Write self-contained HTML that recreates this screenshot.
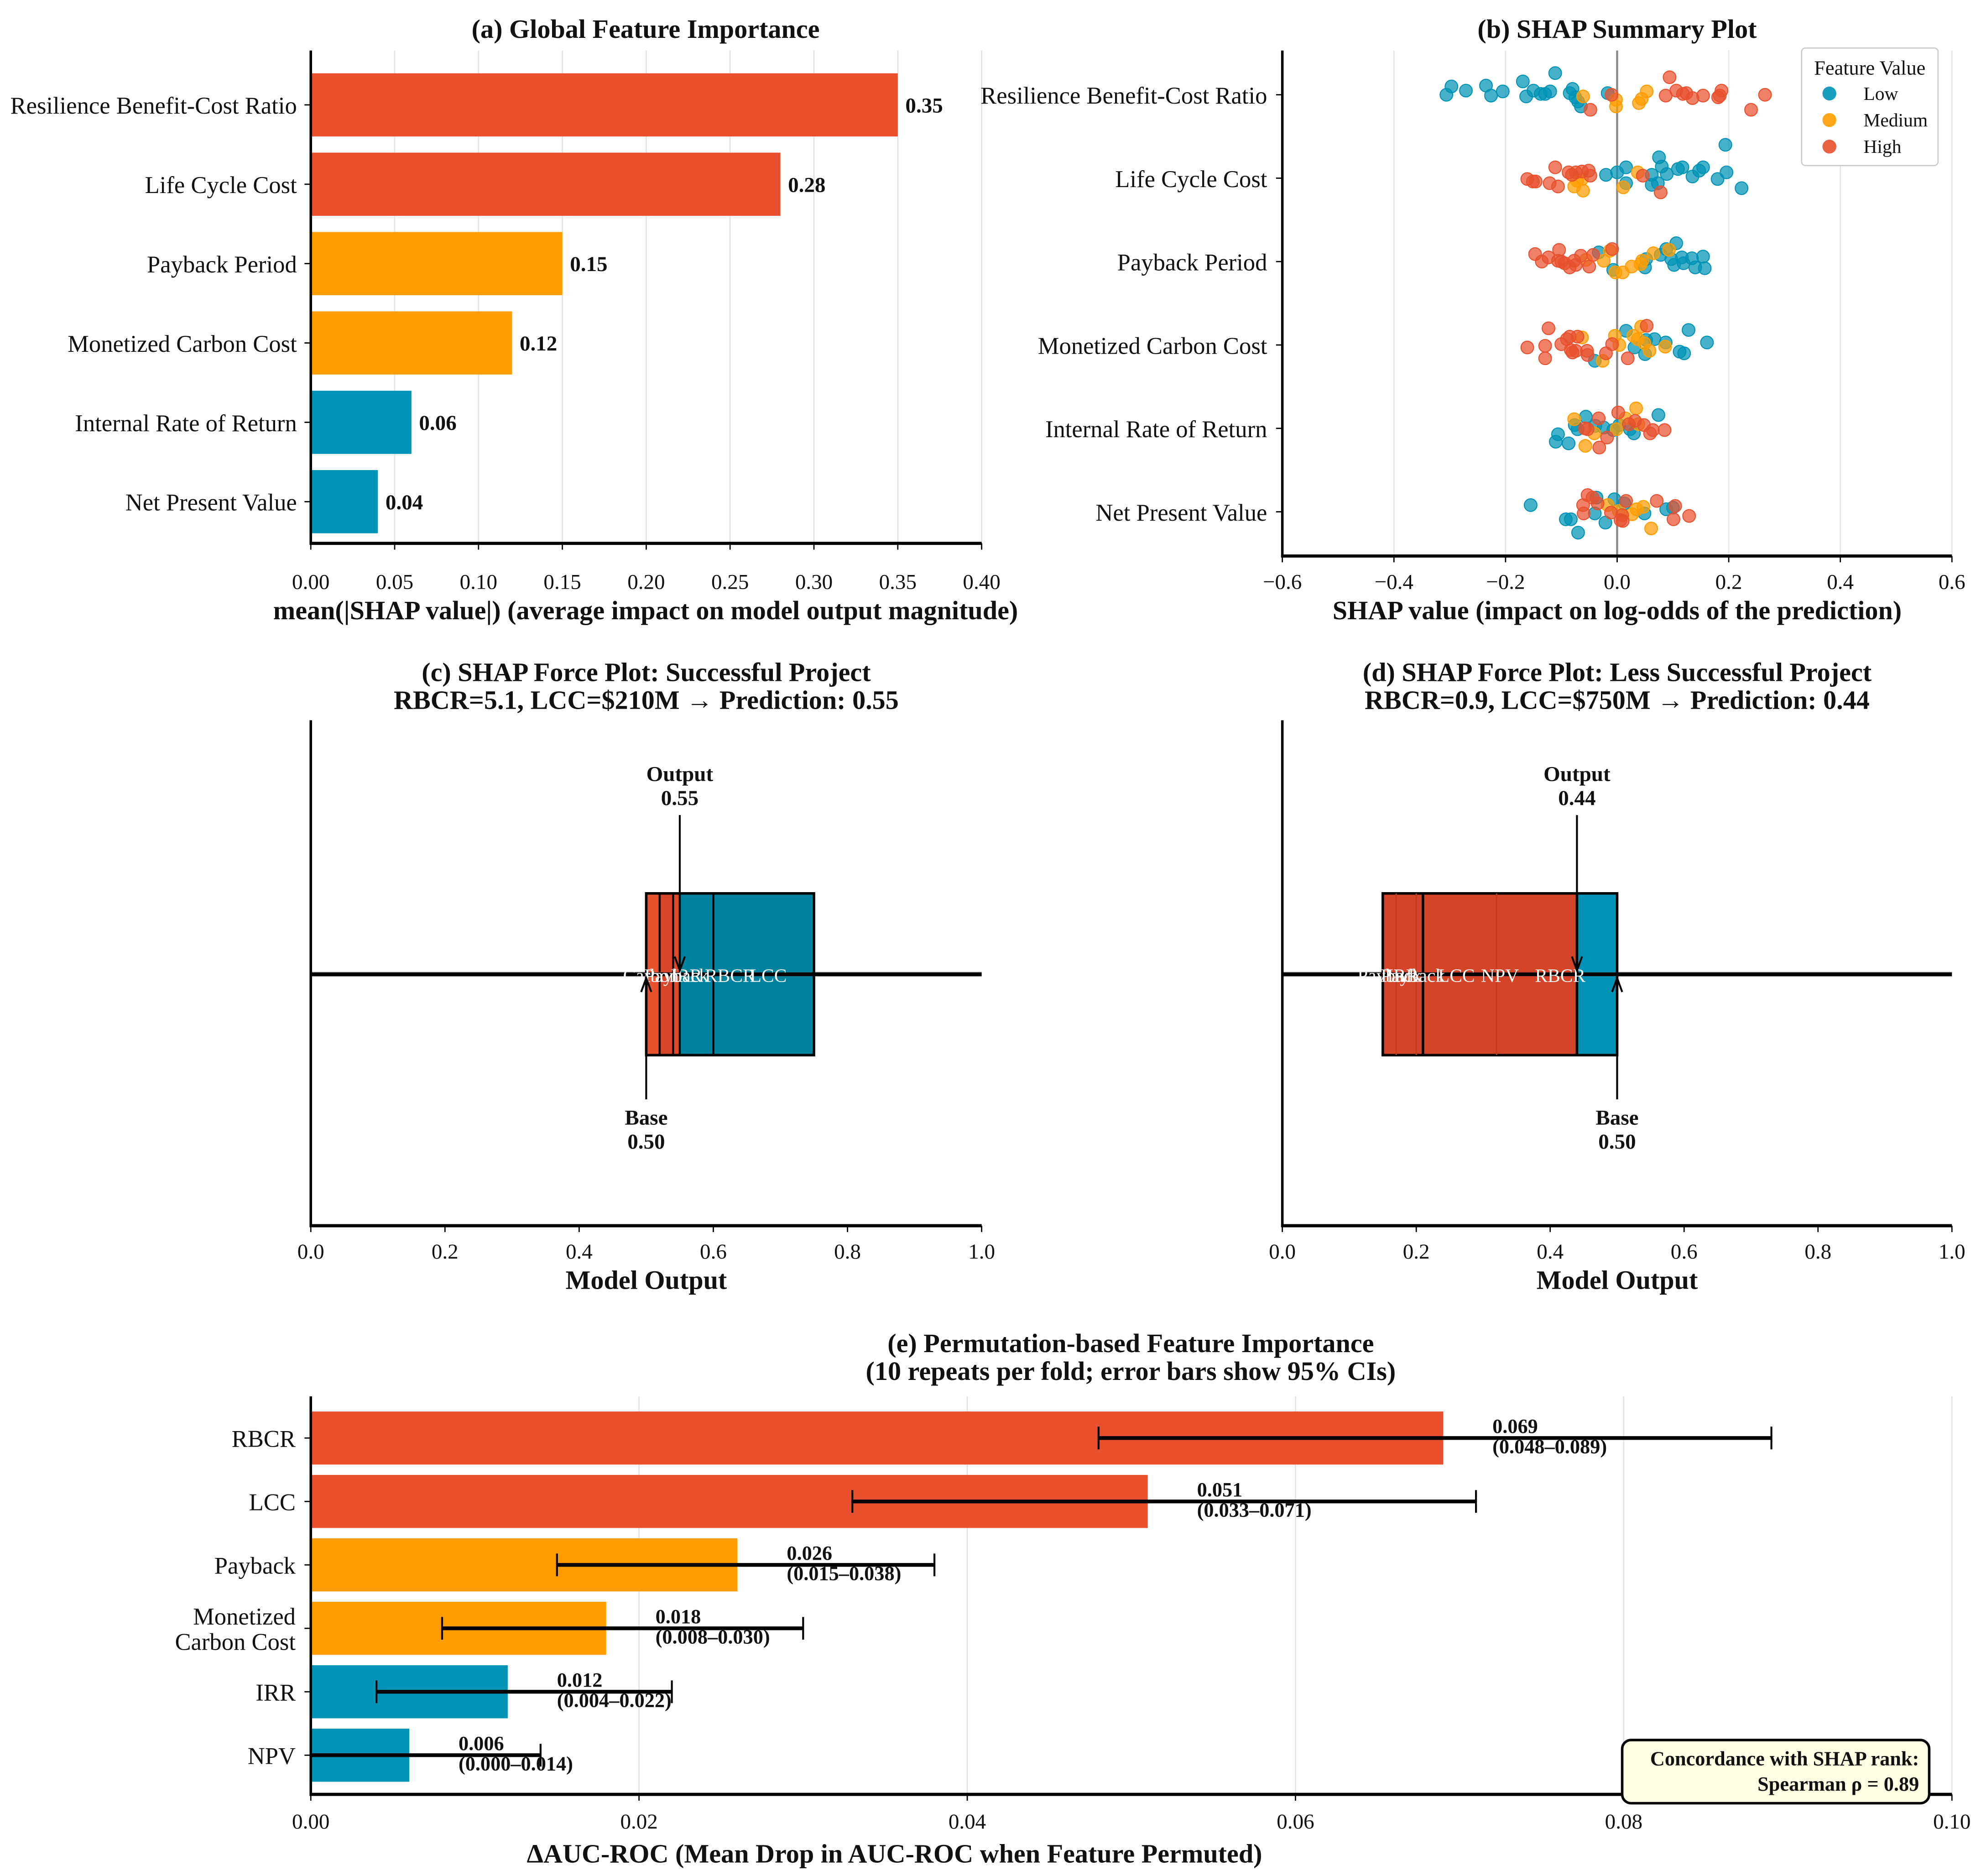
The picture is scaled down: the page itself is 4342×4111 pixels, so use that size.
<!DOCTYPE html>
<html><head><meta charset="utf-8">
<style>
html,body{margin:0;padding:0;background:#fff;}
svg{display:block;}
text{font-family:"Liberation Serif","DejaVu Serif",serif;}
</style></head>
<body>
<svg id="fig" xmlns="http://www.w3.org/2000/svg" width="4342" height="4111" viewBox="0 0 1568 1484.6">
<rect x="0" y="0" width="1568" height="1485" fill="#fff"/>
</svg>
<script>
// ---------- DATA ----------
const aFeatures = ["Resilience Benefit-Cost Ratio","Life Cycle Cost","Payback Period","Monetized Carbon Cost","Internal Rate of Return","Net Present Value"];
const aValues = [0.35,0.28,0.15,0.12,0.06,0.04];
const aGroup = ["high","high","med","med","low","low"];
const aTicks = ["0.00","0.05","0.10","0.15","0.20","0.25","0.30","0.35","0.40"];

const bTicks = ["\u22120.6","\u22120.4","\u22120.2","0.0","0.2","0.4","0.6"];
const bLowX = [
 [-0.306,-0.297,-0.271,-0.235,-0.226,-0.205,-0.169,-0.163,-0.150,-0.137,-0.129,-0.120,-0.111,-0.085,-0.080,-0.075,-0.070,-0.065,-0.017],
 [-0.020,0,0.016,0.016,0.062,0.062,0.075,0.080,0.089,0.109,0.117,0.135,0.147,0.154,0.180,0.194,0.196,0.223,0.073],
 [-0.033,-0.007,0.050,0.052,0.078,0.088,0.106,0.097,0.102,0.116,0.119,0.134,0.140,0.154,0.157],
 [-0.040,0.016,0.031,0.050,0.052,0.067,0.087,0.112,0.120,0.128,0.161],
 [-0.110,-0.106,-0.087,-0.076,-0.071,-0.056,-0.039,-0.024,-0.007,0.004,0.023,0.030,0.074],
 [-0.155,-0.092,-0.083,-0.070,-0.040,-0.037,-0.021,-0.005,0.013,0.049,0.088,0.100]];
const bLowJ = [
 [0,-0.10,-0.05,-0.11,0.01,-0.04,-0.16,0.02,-0.05,-0.01,-0.01,-0.04,-0.26,-0.02,-0.07,0.03,0.08,0.14,-0.02],
 [-0.04,-0.07,-0.13,0.06,-0.04,0.08,-0.25,-0.14,-0.05,-0.11,-0.13,-0.02,-0.09,-0.13,0.01,-0.40,-0.07,0.12,0.06],
 [-0.11,0.10,0.07,-0.03,-0.08,-0.15,-0.22,-0.03,0.04,-0.05,0.02,-0.04,0.07,-0.06,0.08],
 [0.19,-0.17,0.03,0.11,-0.06,-0.07,-0.03,0.08,0.10,-0.18,-0.03],
 [0.16,0.07,0.18,-0.04,0.01,-0.14,-0.03,-0.01,0.02,-0.04,0.01,0.06,-0.16],
 [-0.08,0.09,0.09,0.25,0.02,-0.17,0.13,-0.15,-0.10,0.02,-0.03,-0.05]];
const bMedX = [
 [-0.061,-0.002,-0.002,0.039,0.044,0.053],
 [-0.072,-0.063,-0.061,0.011,0.037,-0.077],
 [-0.056,-0.024,-0.013,-0.003,0.010,0.026,0.042,0.045,0.065,0.093],
 [-0.063,-0.026,-0.004,0.004,0.029,0.043,0.049,0.058,0.086,0.037],
 [-0.077,-0.057,-0.041,-0.001,0.015,0.034,0.038],
 [-0.017,0.003,0.027,0.035,0.047,0.061]];
const bMedJ = [
 [0.02,0.06,0.14,0.10,0.05,-0.04],
 [0.03,0.01,0.15,0.11,-0.07,0.10],
 [-0.02,-0.01,-0.13,0.13,0.13,0.06,0.03,-0.01,-0.10,-0.14],
 [-0.09,0.19,-0.11,0,-0.11,-0.22,-0.02,0.07,0.02,-0.07],
 [-0.11,0.21,0.06,0.01,-0.12,-0.24,-0.05],
 [-0.08,-0.01,0.03,-0.03,-0.06,0.20]];
const bHighX = [
 [-0.048,-0.010,0.087,0.094,0.106,0.118,0.124,0.135,0.154,0.181,0.187,0.240,0.265,0.184],
 [-0.161,-0.151,-0.146,-0.121,-0.111,-0.106,-0.087,-0.081,-0.074,-0.063,-0.051,-0.048,0.046,0.078],
 [-0.147,-0.135,-0.123,-0.104,-0.100,-0.094,-0.085,-0.077,-0.074,-0.065,-0.050,-0.043,-0.009,-0.106],
 [-0.161,-0.129,-0.129,-0.123,-0.100,-0.090,-0.085,-0.080,-0.074,-0.054,-0.053,-0.020,-0.009,0.019,0.053,-0.071,-0.083],
 [-0.058,-0.053,-0.033,-0.032,-0.018,0.002,0.021,0.032,0.048,0.059,0.064,0.085],
 [-0.061,-0.060,-0.053,-0.044,-0.035,-0.011,0.006,0.010,0.016,0.071,0.104,0.101,0.129,0.009]];
const bHighJ = [
 [0.18,0,0.01,-0.21,-0.05,-0.01,-0.02,0.04,0.01,0.03,-0.05,0.18,0,0.01],
 [0.01,0.04,0.04,0.06,-0.13,0.10,-0.07,-0.04,-0.07,-0.08,-0.09,-0.03,-0.03,0.17],
 [-0.09,0,-0.05,-0.14,0,0.02,0.07,-0.01,0.04,-0.07,0.06,-0.08,-0.15,-0.01],
 [0.03,0.01,0.16,-0.20,-0.01,-0.07,-0.10,0.09,0.07,0.07,0.12,0.10,-0.01,0.16,-0.23,-0.10,0.06],
 [0,0.01,-0.12,0.23,0.11,-0.19,-0.05,-0.09,-0.04,0.06,0.02,0.02],
 [-0.08,0.02,-0.20,-0.17,-0.10,0.01,0.10,0.11,-0.13,-0.13,-0.07,0.09,0.05,0.04]];

const fTicks = ["0.0","0.2","0.4","0.6","0.8","1.0"];
const cEdges = [0.50,0.52,0.54,0.55,0.60,0.75];
const cColors = ["#E8522E","#D6442A","#E0482A","#00829F","#00829F"];
const cLabels = ["Carbon","Payback","IRR","RBCR","LCC"];
const cLabelPos = [0.507,0.545,0.56,0.625,0.682];
const cBase = 0.50, cOut = 0.55;
const dEdges = [0.15,0.17,0.20,0.21,0.32,0.44,0.50];
const dColors = ["#D44428","#D44428","#D44428","#D44428","#D44428","#0093B6"];
const dThick = [1,0,0,1,0,1,1];
const dLabels = ["Payback","IRR","Payback","LCC","NPV","RBCR"];
const dLabelPos = [0.16,0.18,0.195,0.26,0.325,0.415];
const dBase = 0.50, dOut = 0.44;

const eFeatures = [["RBCR"],["LCC"],["Payback"],["Monetized","Carbon Cost"],["IRR"],["NPV"]];
const eValues = [0.069,0.051,0.026,0.018,0.012,0.006];
const eLo = [0.048,0.033,0.015,0.008,0.004,0.000];
const eHi = [0.089,0.071,0.038,0.030,0.022,0.014];
const eGroup = ["high","high","med","med","low","low"];
const eTicks = ["0.00","0.02","0.04","0.06","0.08","0.10"];

// ---------- HELPERS ----------
const NS="http://www.w3.org/2000/svg";
const svg=document.getElementById('fig');
const COL={high:"#E8502E",med:"#FF9D00",low:"#0093B6"};
const TICK=17, YLAB=19, TITLE=21, AXT=21;
function mk(tag,attrs,parent){const e=document.createElementNS(NS,tag);for(const k in attrs)e.setAttribute(k,attrs[k]);(parent||svg).appendChild(e);return e;}
function txt(x,y,s,size,anchor,bold,parent,fill){const t=mk('text',{x:x,y:y,'font-size':size,'text-anchor':anchor||'middle'},parent);if(bold)t.setAttribute('font-weight','bold');t.setAttribute('fill',fill||'#111');t.textContent=s;return t;}
function lin(d0,d1,r0,r1){return v=>r0+(v-d0)/(d1-d0)*(r1-r0);}

// ---------- PANEL A ----------
(function(){
 const g=mk('g',{});
 
 
 const x=lin(0,0.40,246,777), top=40,bot=430;
 const rowY=i=>83+i*62.8;
 aTicks.forEach(t=>{const v=parseFloat(t);mk('line',{x1:x(v),x2:x(v),y1:top,y2:bot,stroke:"#e3e3e3","stroke-width":1},g);});
 aValues.forEach((v,i)=>{
  const r=mk('rect',{x:x(0),y:rowY(i)-25,width:x(v)-x(0),height:50,fill:COL[aGroup[i]]},g);
  
  
  const l=txt(x(v)+6,rowY(i)+6,v.toFixed(2),17,'start',true,g);
  
  
  mk('line',{x1:241,x2:246,y1:rowY(i),y2:rowY(i),stroke:"#000","stroke-width":1},g);
  const yl=txt(235,rowY(i)+7,aFeatures[i],YLAB,'end',false,g);
  
  
 });
 mk('line',{x1:246,x2:246,y1:top,y2:bot+1,stroke:"#000","stroke-width":2},g);
 mk('line',{x1:245,x2:777,y1:bot,y2:bot,stroke:"#000","stroke-width":2.5},g);
 aTicks.forEach(t=>{const v=parseFloat(t);mk('line',{x1:x(v),x2:x(v),y1:bot,y2:bot+5,stroke:"#000"},g);const tl=txt(x(v),bot+36,t,TICK,'middle',false,g);});
 const xt=txt(511,490,"mean(|SHAP value|) (average impact on model output magnitude)",AXT,'middle',true,g);
 
 const tt=txt(511,30,"(a) Global Feature Importance",TITLE,'middle',true,g);
 
})();

// ---------- PANEL B ----------
(function(){
 const g=mk('g',{});
 
 
 const x=lin(-0.6,0.6,1015,1545), top=40,bot=440;
 const rowY=i=>75+i*66;
 bTicks.forEach(t=>{const v=parseFloat(t.replace('\u2212','-'));mk('line',{x1:x(v),x2:x(v),y1:top,y2:bot,stroke:"#e6e6e6","stroke-width":1},g);});
 mk('line',{x1:x(0),x2:x(0),y1:top,y2:bot,stroke:"#888","stroke-width":1.6},g);
 const sets=[[bLowX,bLowJ,COL.low,'low'],[bMedX,bMedJ,COL.med,'medium'],[bHighX,bHighJ,COL.high,'high']];
 for(let r=0;r<6;r++){
  sets.forEach(s=>{
   const xs=s[0][r],js=s[1][r];
   xs.forEach((v,k)=>{
    const c=mk('circle',{cx:x(v),cy:rowY(r)+js[k]*66,r:5,fill:s[2],'fill-opacity':0.72,stroke:s[2],'stroke-width':0.8},g);
    
    
   });
  });
  mk('line',{x1:1010,x2:1015,y1:rowY(r),y2:rowY(r),stroke:"#000"},g);
  const yl=txt(1003,rowY(r)+7,aFeatures[r],YLAB,'end',false,g);
  
 }
 mk('line',{x1:1015,x2:1015,y1:top,y2:bot+1,stroke:"#000","stroke-width":2},g);
 mk('line',{x1:1014,x2:1545,y1:bot,y2:bot,stroke:"#000","stroke-width":2.5},g);
 bTicks.forEach(t=>{const v=parseFloat(t.replace('\u2212','-'));mk('line',{x1:x(v),x2:x(v),y1:bot,y2:bot+5,stroke:"#000"},g);const tl=txt(x(v),bot+26,t,TICK,'middle',false,g);});
 const xt=txt(1280,490,"SHAP value (impact on log-odds of the prediction)",AXT,'middle',true,g);
 
 const tt=txt(1280,30,"(b) SHAP Summary Plot",TITLE,'middle',true,g);
 
 const lg=mk('g',{},g);
 
 
 mk('rect',{x:1426,y:38,width:108,height:93,rx:3,fill:"#fff",stroke:"#ccc","stroke-width":1},lg);
 txt(1480,59,"Feature Value",16,'middle',false,lg);
 [["Low",COL.low],["Medium",COL.med],["High",COL.high]].forEach((e,i)=>{
  const eg=mk('g',{},lg);
  
  
  mk('circle',{cx:1448,cy:74+i*21,r:5.5,fill:e[1],'fill-opacity':0.9},eg);
  txt(1475,79+i*21,e[0],15,'start',false,eg);
 });
})();

// ---------- FORCE PLOTS ----------
function forcePanel(name,x0,x1,edges,colors,thick,labels,labelPos,base,out,title1,title2){
 const g=mk('g',{});
 
 
 const x=lin(0,1,x0,x1), top=570,bot=970, cy=771;
 mk('line',{x1:x0,x2:x1,y1:cy,y2:cy,stroke:"#bbb","stroke-width":4},g);
 for(let i=0;i<colors.length;i++){
  const r=mk('rect',{x:x(edges[i]),y:707,width:x(edges[i+1])-x(edges[i]),height:128,fill:colors[i]},g);
  
  
 }
 mk('line',{x1:x0,x2:x1,y1:cy,y2:cy,stroke:"#000","stroke-width":3},g);
 mk('rect',{x:x(edges[0]),y:707,width:x(edges[edges.length-1])-x(edges[0]),height:128,fill:"none",stroke:"#000","stroke-width":2},g);
 edges.forEach((e,i)=>{ if(i>0&&i<edges.length-1){ mk('line',{x1:x(e),x2:x(e),y1:707,y2:835,stroke:thick?(thick[i]?"#000":"#C23A20"):"#000","stroke-width":thick?(thick[i]?2:1):1.6},g);} });
 labels.forEach((l,i)=>{const t=txt(x(labelPos[i]),cy+6,l,15,'middle',false,g,"#fff");});
 mk('line',{x1:x(out),x2:x(out),y1:645,y2:768,stroke:"#000","stroke-width":1.5},g);
 mk('path',{d:`M${x(out)-4},${757} L${x(out)},${768} L${x(out)+4},${757}`,fill:"none",stroke:"#000","stroke-width":1.5},g);
 txt(x(out),618,"Output",17,'middle',true,g); txt(x(out),637,out.toFixed(2),17,'middle',true,g);
 mk('line',{x1:x(base),x2:x(base),y1:774,y2:870,stroke:"#000","stroke-width":1.5},g);
 mk('path',{d:`M${x(base)-4},${785} L${x(base)},${774} L${x(base)+4},${785}`,fill:"none",stroke:"#000","stroke-width":1.5},g);
 txt(x(base),890,"Base",17,'middle',true,g); txt(x(base),909,base.toFixed(2),17,'middle',true,g);
 mk('line',{x1:x0,x2:x0,y1:top,y2:bot+1,stroke:"#000","stroke-width":2},g);
 mk('line',{x1:x0-1,x2:x1,y1:bot,y2:bot,stroke:"#000","stroke-width":2.5},g);
 fTicks.forEach(t=>{const v=parseFloat(t);mk('line',{x1:x(v),x2:x(v),y1:bot,y2:bot+5,stroke:"#000"},g);const tl=txt(x(v),bot+26,t,TICK,'middle',false,g);});
 const xt=txt((x0+x1)/2,1020,"Model Output",AXT,'middle',true,g);
 
 const t1=txt((x0+x1)/2,539,title1,TITLE,'middle',true,g);
 
 const t2=txt((x0+x1)/2,561,title2,TITLE,'middle',true,g);
 
}
forcePanel('panel-c-force-successful',246,777,cEdges,cColors,null,cLabels,cLabelPos,cBase,cOut,"(c) SHAP Force Plot: Successful Project","RBCR=5.1, LCC=$210M \u2192 Prediction: 0.55");
forcePanel('panel-d-force-less-successful',1015,1545,dEdges,dColors,dThick,dLabels,dLabelPos,dBase,dOut,"(d) SHAP Force Plot: Less Successful Project","RBCR=0.9, LCC=$750M \u2192 Prediction: 0.44");

// ---------- PANEL E ----------
(function(){
 const g=mk('g',{});
 
 
 const x=lin(0,0.10,246,1545), top=1105,bot=1420;
 const rowY=i=>1138+i*50.2;
 eTicks.forEach(t=>{const v=parseFloat(t);mk('line',{x1:x(v),x2:x(v),y1:top,y2:bot,stroke:"#e3e3e3","stroke-width":1},g);});
 eValues.forEach((v,i)=>{
  const r=mk('rect',{x:x(0),y:rowY(i)-21,width:x(v)-x(0),height:42,fill:COL[eGroup[i]]},g);
  
  
  const eb=mk('g',{},g);
  
  
  mk('line',{x1:x(eLo[i]),x2:x(eHi[i]),y1:rowY(i),y2:rowY(i),stroke:"#000","stroke-width":3},eb);
  mk('line',{x1:x(eLo[i]),x2:x(eLo[i]),y1:rowY(i)-9,y2:rowY(i)+9,stroke:"#000","stroke-width":1.5},eb);
  mk('line',{x1:x(eHi[i]),x2:x(eHi[i]),y1:rowY(i)-9,y2:rowY(i)+9,stroke:"#000","stroke-width":1.5},eb);
  const lx=x(v+0.003);
  const l1=txt(lx,rowY(i)-4,v.toFixed(3),16,'start',true,g);
  
  const l2=txt(lx,rowY(i)+12,"("+eLo[i].toFixed(3)+"\u2013"+eHi[i].toFixed(3)+")",16,'start',true,g);
  
  mk('line',{x1:241,x2:246,y1:rowY(i),y2:rowY(i),stroke:"#000"},g);
  const f=eFeatures[i];
  f.forEach((s,k)=>{const yl=txt(234,rowY(i)+7+(k-(f.length-1)/2)*20,s,YLAB,'end',false,g);});
 });
 mk('line',{x1:246,x2:246,y1:top,y2:bot+1,stroke:"#000","stroke-width":2},g);
 mk('line',{x1:245,x2:1545,y1:bot,y2:bot,stroke:"#000","stroke-width":2.5},g);
 eTicks.forEach(t=>{const v=parseFloat(t);mk('line',{x1:x(v),x2:x(v),y1:bot,y2:bot+5,stroke:"#000"},g);const tl=txt(x(v),bot+27,t,TICK,'middle',false,g);});
 const xt=txt(708,1474,"\u0394AUC-ROC (Mean Drop in AUC-ROC when Feature Permuted)",AXT,'middle',true,g);
 
 const t1=txt(895,1070,"(e) Permutation-based Feature Importance",TITLE,'middle',true,g);
 
 const t2=txt(895,1092,"(10 repeats per fold; error bars show 95% CIs)",TITLE,'middle',true,g);
 
 const ann=mk('g',{},g);
 
 
 mk('rect',{x:1284,y:1377,width:243,height:50,rx:7,fill:"#FFFFE3",stroke:"#000","stroke-width":2},ann);
 txt(1519,1397,"Concordance with SHAP rank:",16,'end',true,ann);
 txt(1519,1417,"Spearman \u03C1 = 0.89",16,'end',true,ann);
})();
</script>
</body></html>
